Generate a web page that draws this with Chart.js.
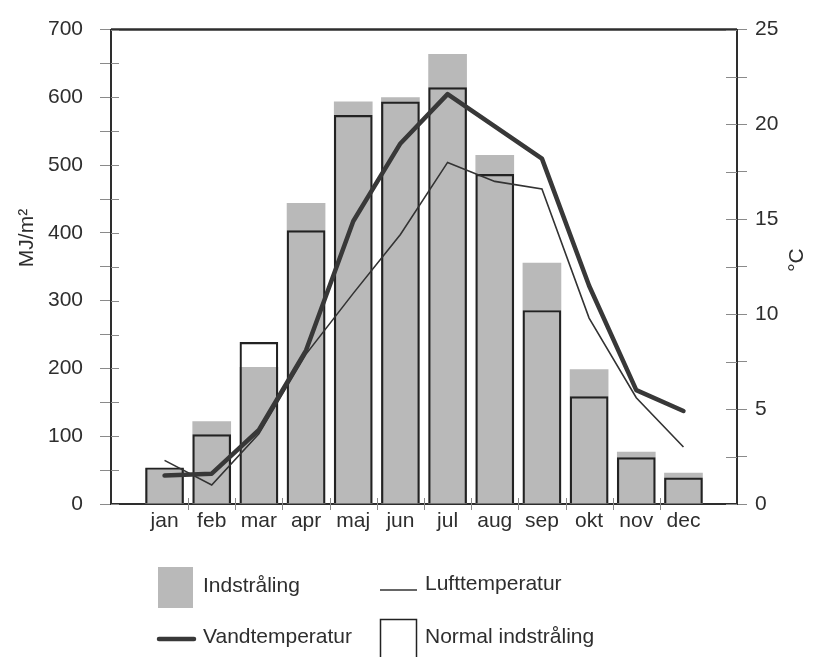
<!DOCTYPE html>
<html lang="da">
<head>
<meta charset="utf-8">
<title>Indstråling og temperatur</title>
<script src="https://cdn.jsdelivr.net/npm/chart.js@4/dist/chart.umd.min.js"></script>
<style>
  html, body { margin: 0; padding: 0; background: #fff; }
  #wrap { position: relative; width: 814px; height: 657px; }
</style>
</head>
<body>
<div id="wrap"><canvas id="c" width="814" height="657"></canvas></div>
<script>
// Månedlige værdier
const months = ['jan', 'feb', 'mar', 'apr', 'maj', 'jun', 'jul', 'aug', 'sep', 'okt', 'nov', 'dec'];
const indstraling = [53, 122, 202, 444, 594, 600, 664, 515, 356, 199, 77, 46];          // MJ/m²
const normalIndstraling = [54, 103, 239, 404, 574, 594, 615, 487, 286, 159, 69, 39];    // MJ/m²
const lufttemperatur = [2.3, 1.0, 3.7, 7.9, 11.1, 14.2, 18.0, 17.0, 16.6, 9.8, 5.6, 3.0]; // °C
const vandtemperatur = [1.5, 1.6, 3.9, 8.1, 14.9, 19.0, 21.6, 19.9, 18.2, 11.5, 6.0, 4.9]; // °C

const FONT = '"Liberation Sans", Arial, Helvetica, sans-serif';
const FS = 21;
const INK = '#2e2e2e';
const GREY = '#b9b9b9';

const pts = arr => arr.map((v, i) => ({ x: i, y: v }));

// Frame line on top, month boundary marks and axis titles
const framePlugin = {
  id: 'frame',
  afterDraw(chart) {
    const { ctx, chartArea: a, scales } = chart;
    ctx.save();
    // top line
    ctx.strokeStyle = INK;
    ctx.lineWidth = 2.5;
    ctx.beginPath();
    ctx.moveTo(a.left, a.top);
    ctx.lineTo(a.right, a.top);
    ctx.stroke();
    // small marks between months
    ctx.strokeStyle = '#8a8a8a';
    ctx.lineWidth = 1;
    for (let i = 0; i < months.length - 1; i++) {
      const x = Math.round(scales.x.getPixelForValue(i + 0.5)) + 0.5;
      ctx.beginPath();
      ctx.moveTo(x, a.bottom - 6);
      ctx.lineTo(x, a.bottom + 6);
      ctx.stroke();
    }
    // inner halves of the y-axis ticks
    const inner = (scale, x, dir, len) => {
      scale.ticks.forEach(t => {
        const y = Math.round(scale.getPixelForValue(t.value)) + 0.5;
        ctx.beginPath();
        ctx.moveTo(x, y);
        ctx.lineTo(x + dir * len, y);
        ctx.stroke();
      });
    };
    inner(scales.y, a.left, 1, 8);
    inner(scales.y2, a.right, -1, 11);
    // axis titles
    ctx.fillStyle = INK;
    ctx.font = FS + 'px ' + FONT;
    ctx.textAlign = 'center';
    ctx.textBaseline = 'middle';
    ctx.save();
    ctx.translate(27, 238);
    ctx.rotate(-Math.PI / 2);
    ctx.fillText('MJ/m²', 0, 0);
    ctx.restore();
    ctx.save();
    ctx.translate(797, 260);
    ctx.rotate(-Math.PI / 2);
    ctx.fillText('°C', 0, 0);
    ctx.restore();
    ctx.restore();
  }
};

// Two-column legend below the plot
const legendPlugin = {
  id: 'legendGrid',
  afterDraw(chart) {
    const { ctx } = chart;
    const ds = chart.data.datasets;
    ctx.save();
    ctx.font = FS + 'px ' + FONT;
    ctx.fillStyle = INK;
    ctx.textAlign = 'left';
    ctx.textBaseline = 'middle';

    // Indstråling
    ctx.fillStyle = ds[0].backgroundColor;
    ctx.fillRect(158, 567, 35, 41);
    ctx.fillStyle = INK;
    ctx.fillText(ds[0].label, 203, 586);

    // Lufttemperatur
    ctx.strokeStyle = ds[2].borderColor;
    ctx.lineWidth = ds[2].borderWidth;
    ctx.beginPath();
    ctx.moveTo(380, 590);
    ctx.lineTo(417, 590);
    ctx.stroke();
    ctx.fillText(ds[2].label, 425, 584);

    // Vandtemperatur
    ctx.strokeStyle = ds[3].borderColor;
    ctx.lineWidth = ds[3].borderWidth;
    ctx.lineCap = 'round';
    ctx.beginPath();
    ctx.moveTo(159, 639);
    ctx.lineTo(194, 639);
    ctx.stroke();
    ctx.lineCap = 'butt';
    ctx.fillText(ds[3].label, 203, 637);

    // Normal indstråling
    ctx.strokeStyle = ds[1].borderColor;
    ctx.lineWidth = 1.5;
    ctx.strokeRect(380.5, 619.5, 36, 46);
    ctx.fillText(ds[1].label, 425, 637);
    ctx.restore();
  }
};

new Chart(document.getElementById('c'), {
  type: 'bar',
  data: {
    datasets: [
      {
        label: 'Indstråling',
        data: pts(indstraling),
        backgroundColor: GREY,
        borderWidth: 0,
        yAxisID: 'y',
        order: 4
      },
      {
        label: 'Normal indstråling',
        data: pts(normalIndstraling),
        backgroundColor: 'rgba(0,0,0,0)',
        borderColor: '#222',
        borderWidth: 2.2,
        yAxisID: 'y',
        order: 3
      },
      {
        type: 'line',
        label: 'Lufttemperatur',
        data: pts(lufttemperatur),
        borderColor: '#333',
        borderWidth: 1.6,
        pointRadius: 0,
        tension: 0,
        yAxisID: 'y2',
        order: 2
      },
      {
        type: 'line',
        label: 'Vandtemperatur',
        data: pts(vandtemperatur),
        borderColor: '#383838',
        borderWidth: 4.5,
        borderJoinStyle: 'round',
        borderCapStyle: 'round',
        pointRadius: 0,
        tension: 0,
        yAxisID: 'y2',
        order: 1
      }
    ]
  },
  options: {
    responsive: false,
    animation: false,
    devicePixelRatio: 1,
    layout: { padding: { top: 24, left: 0, right: 0, bottom: 0 } },
    datasets: {
      bar: { grouped: false, barPercentage: 0.82, categoryPercentage: 1 }
    },
    plugins: {
      legend: { display: false },
      tooltip: { enabled: false }
    },
    scales: {
      x: {
        type: 'linear',
        offset: false,
        min: -1.135,
        max: 12.135,
        afterBuildTicks: s => { s.ticks = months.map((m, i) => ({ value: i })); },
        afterFit: s => { s.height = 153; },
        grid: { display: false, drawTicks: false, tickLength: 0 },
        border: { display: true, color: INK, width: 2 },
        ticks: {
          autoSkip: false,
          maxRotation: 0,
          padding: 5,
          color: INK,
          font: { family: FONT, size: FS },
          callback: v => months[v]
        }
      },
      y: {
        position: 'left',
        min: 0,
        max: 700,
        afterFit: s => { s.width = 111; },
        border: { display: true, color: INK, width: 2 },
        grid: { drawOnChartArea: false, color: '#8a8a8a', tickLength: 11 },
        ticks: {
          stepSize: 50,
          padding: 17,
          color: INK,
          font: { family: FONT, size: FS },
          callback: v => (v % 100 === 0 ? v : '')
        }
      },
      y2: {
        position: 'right',
        min: 0,
        max: 25,
        afterFit: s => { s.width = 77; },
        border: { display: true, color: INK, width: 2 },
        grid: { drawOnChartArea: false, color: '#8a8a8a', tickLength: 10 },
        ticks: {
          stepSize: 2.5,
          padding: 8,
          color: INK,
          font: { family: FONT, size: FS },
          callback: v => (v % 5 === 0 ? v : '')
        }
      }
    }
  },
  plugins: [framePlugin, legendPlugin]
});
</script>
</body>
</html>
